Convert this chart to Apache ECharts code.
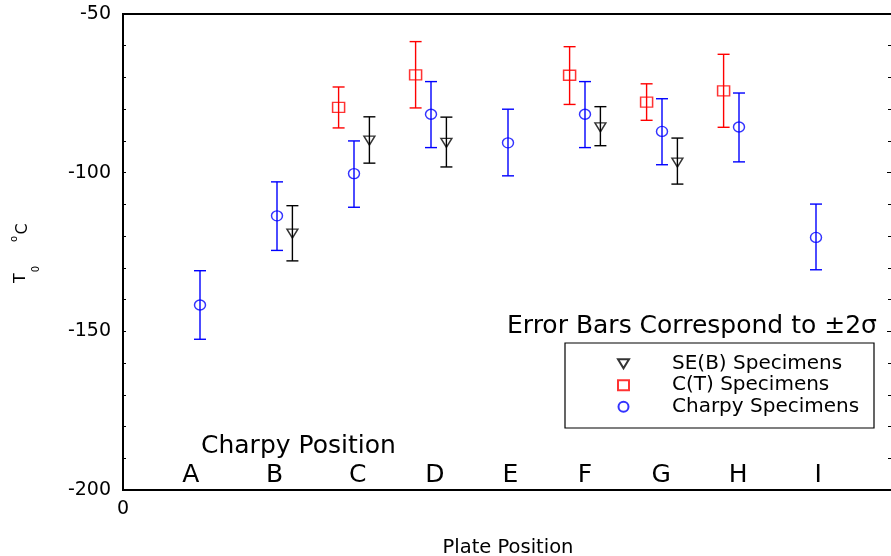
<!DOCTYPE html>
<html>
<head>
<meta charset="utf-8">
<script src="https://cdn.jsdelivr.net/npm/echarts@6/dist/echarts.min.js"></script>
<style>
html,body{margin:0;padding:0;background:#fff;}
#chart{width:891px;height:556px;}
</style>
</head>
<body>
<div id="chart"></div>
<script>
// ---- data ----
const positions = ['A','B','C','D','E','F','G','H','I'];
const letterX = [0.88, 1.97, 3.05, 4.05, 5.03, 6.0, 6.99, 7.99, 9.03];
const letterY = -195.4;

// Charpy specimens (x = plate position index)
const charpyX    = [1, 2, 3, 4, 5, 6, 7, 8, 9];
const charpyT0   = [-141.7, -113.6, -100.3, -81.6, -90.6, -81.6, -87.0, -85.6, -120.4];
const charpyLow  = [-152.5, -124.5, -110.9, -92.1, -101.0, -92.1, -97.5, -96.6, -130.6];
const charpyHigh = [-130.9, -102.9, -90.0, -71.3, -80.0, -71.3, -76.7, -74.9, -109.9];

// C(T) specimens
const ctX    = [2.8, 3.8, 5.8, 6.8, 7.8];
const ctT0   = [-79.4, -69.2, -69.3, -77.8, -74.2];
const ctLow  = [-85.9, -79.6, -78.5, -83.5, -85.7];
const ctHigh = [-73.0, -58.7, -60.3, -72.0, -62.7];

// SE(B) specimens
const sebX    = [2.2, 3.2, 4.2, 6.2, 7.2];
const sebT0   = [-119.2, -89.9, -90.6, -85.7, -96.8];
const sebLow  = [-127.8, -97.0, -98.2, -91.5, -103.6];
const sebHigh = [-110.4, -82.4, -82.5, -79.2, -89.1];

const yMin = -200, yMax = -50, yInterval = 50;
const xMin = 0, xMax = 10;
const xTickLabels = {0: '0'};

const FONT = 'DejaVu Sans';
const BLUE = '#0000ff', RED = '#ff0000', BLACK = '#000000';

function pts(xs, ys) { return xs.map((x, i) => [x, ys[i]]); }
function bars(xs, lo, hi) { return xs.map((x, i) => [x, lo[i], hi[i]]); }

function errorSeries(name, data, color) {
  return {
    type: 'custom',
    name: name,
    silent: true,
    z: 2,
    data: data,
    encode: { x: 0, y: [1, 2] },
    renderItem: function (params, api) {
      const x = api.value(0);
      const lo = api.coord([x, api.value(1)]);
      const hi = api.coord([x, api.value(2)]);
      const hw = 6;
      const st = { stroke: color, lineWidth: 1.4, fill: null };
      return {
        type: 'group',
        children: [
          { type: 'line', shape: { x1: lo[0], y1: lo[1], x2: hi[0], y2: hi[1] }, style: st },
          { type: 'line', shape: { x1: lo[0] - hw, y1: lo[1], x2: lo[0] + hw, y2: lo[1] }, style: st },
          { type: 'line', shape: { x1: hi[0] - hw, y1: hi[1], x2: hi[0] + hw, y2: hi[1] }, style: st }
        ]
      };
    }
  };
}

const chart = echarts.init(document.getElementById('chart'), null, { renderer: 'canvas' });

const option = {
  animation: false,
  backgroundColor: '#fff',
  grid: {
    left: 123, top: 14, right: -2, bottom: 66,
    containLabel: false, outerBoundsMode: 'none',
    show: true, borderColor: BLACK, borderWidth: 2, backgroundColor: 'transparent'
  },
  xAxis: [{
    type: 'value', min: xMin, max: xMax, interval: 1,
    axisLine: { show: true, lineStyle: { color: BLACK, width: 2 } },
    axisTick: { show: false },
    splitLine: { show: false },
    axisLabel: {
      show: true, color: BLACK, fontFamily: FONT, fontSize: 19, margin: 10,
      formatter: v => (xTickLabels[v] !== undefined ? xTickLabels[v] : '')
    },
    name: 'Plate Position', nameLocation: 'middle', nameGap: 48,
    nameTextStyle: { color: BLACK, fontFamily: FONT, fontSize: 19.5 }
  }],
  yAxis: [{
    type: 'value', min: yMin, max: yMax, interval: yInterval, position: 'left',
    axisLine: { show: true, lineStyle: { color: BLACK, width: 2 } },
    axisTick: { show: true, inside: true, length: 3, lineStyle: { color: BLACK } },
    minorTick: { show: true, splitNumber: 5, length: 3, lineStyle: { color: BLACK } },
    splitLine: { show: false },
    axisLabel: { color: BLACK, fontFamily: FONT, fontSize: 19, margin: 12 }
  }, {
    type: 'value', min: yMin, max: yMax, interval: yInterval, position: 'right',
    axisLine: { show: false },
    axisTick: { show: true, inside: true, length: 6, lineStyle: { color: BLACK } },
    minorTick: { show: true, splitNumber: 5, length: 5, lineStyle: { color: BLACK } },
    splitLine: { show: false },
    axisLabel: { show: false }
  }],
  legend: {
    data: ['SE(B) Specimens', 'C(T) Specimens', 'Charpy Specimens'],
    orient: 'vertical',
    left: 617, top: 353,
    padding: 0,
    itemGap: 0,
    itemWidth: 11, itemHeight: 10,
    selectedMode: false,
    textStyle: {
      color: BLACK, fontFamily: FONT, fontSize: 20, lineHeight: 21.5,
      padding: [0, 0, 0, 38]
    }
  },
  graphic: [
    { type: 'rect', shape: { x: 565, y: 343, width: 309, height: 85 }, style: { fill: 'none', stroke: BLACK, lineWidth: 1.2 }, z: 100 },
    { type: 'text', x: 201, y: 446, style: { text: 'Charpy Position', font: '25px "DejaVu Sans"', fill: BLACK, textAlign: 'left', textVerticalAlign: 'middle' } },
    { type: 'text', x: 507, y: 326, style: { text: 'Error Bars Correspond to \u00B12\u03C3', font: '25px "DejaVu Sans"', fill: BLACK, textAlign: 'left', textVerticalAlign: 'middle' } },
    { type: 'text', x: 21, y: 278, rotation: Math.PI / 2, style: { text: 'T', font: '16px "DejaVu Sans"', fill: BLACK, textAlign: 'center', textVerticalAlign: 'middle' } },
    { type: 'text', x: 36, y: 269, rotation: Math.PI / 2, style: { text: '0', font: '10px "DejaVu Sans"', fill: BLACK, textAlign: 'center', textVerticalAlign: 'middle' } },
    { type: 'text', x: 14, y: 239, rotation: Math.PI / 2, style: { text: 'o', font: '10px "DejaVu Sans"', fill: BLACK, textAlign: 'center', textVerticalAlign: 'middle' } },
    { type: 'text', x: 23, y: 229, rotation: Math.PI / 2, style: { text: 'C', font: '16px "DejaVu Sans"', fill: BLACK, textAlign: 'center', textVerticalAlign: 'middle' } }
  ],
  series: [
    errorSeries('Charpy err', bars(charpyX, charpyLow, charpyHigh), BLUE),
    errorSeries('CT err', bars(ctX, ctLow, ctHigh), RED),
    errorSeries('SEB err', bars(sebX, sebLow, sebHigh), BLACK),
    {
      type: 'scatter', name: 'SE(B) Specimens', z: 3,
      data: pts(sebX, sebT0),
      symbol: 'path://M0,0L12,0L6,10Z', symbolSize: [11, 9],
      itemStyle: { color: 'rgba(0,0,0,0)', borderColor: BLACK, borderWidth: 1.4 }
    },
    {
      type: 'scatter', name: 'C(T) Specimens', z: 3,
      data: pts(ctX, ctT0),
      symbol: 'rect', symbolSize: [12, 10],
      itemStyle: { color: 'rgba(0,0,0,0)', borderColor: RED, borderWidth: 1.4 }
    },
    {
      type: 'scatter', name: 'Charpy Specimens', z: 3,
      data: pts(charpyX, charpyT0),
      symbol: 'circle', symbolSize: [11, 10],
      itemStyle: { color: 'rgba(0,0,0,0)', borderColor: BLUE, borderWidth: 1.4 }
    },
    {
      type: 'scatter', name: 'letters', silent: true, z: 4,
      data: letterX.map(x => [x, letterY]),
      symbolSize: 1,
      itemStyle: { color: 'rgba(0,0,0,0)', borderWidth: 0 },
      label: {
        show: true, position: 'inside', color: BLACK, opacity: 1,
        textBorderWidth: 0, textBorderColor: 'transparent',
        fontFamily: FONT, fontSize: 25,
        formatter: p => positions[p.dataIndex]
      }
    }
  ]
};
chart.setOption(option);
</script>
</body>
</html>
